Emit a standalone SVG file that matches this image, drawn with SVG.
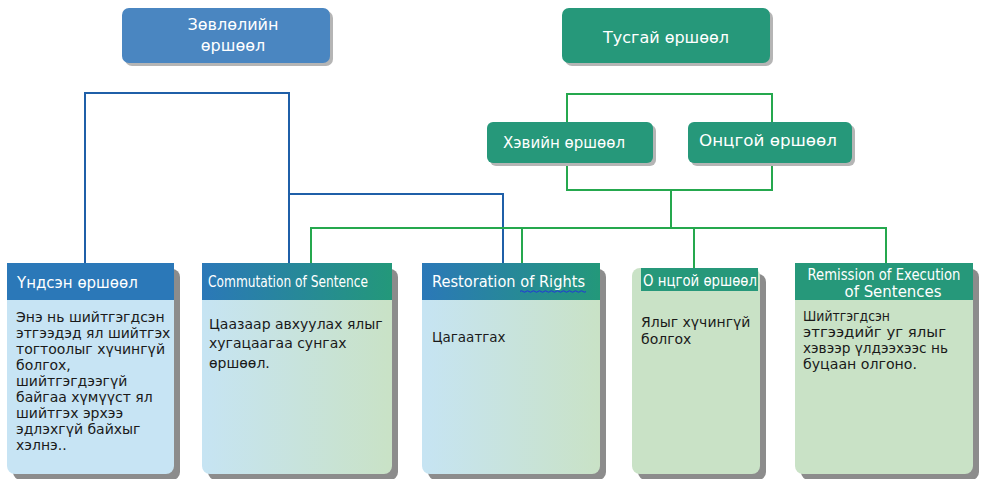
<svg xmlns="http://www.w3.org/2000/svg" width="983" height="479" viewBox="0 0 983 479">
<defs>
<style>
.t{font-family:"DejaVu Sans",Verdana,sans-serif;}
.c{font-family:"DejaVu Sans Condensed","DejaVu Sans",sans-serif;font-stretch:condensed;}
.w{fill:#ffffff;}
.k{fill:#1a1a1a;}
.sh{fill:#8c8c8c;}
.bl{fill:none;stroke:#1f5fa8;stroke-width:2;}
.gr{fill:none;stroke:#25a84e;stroke-width:2;}
</style>
<linearGradient id="hg" x1="0" y1="0" x2="1" y2="0">
<stop offset="0" stop-color="#2b78b8"/><stop offset="1" stop-color="#23987a"/>
</linearGradient>
<linearGradient id="bg" x1="0" y1="0" x2="1" y2="0">
<stop offset="0" stop-color="#c6e4f3"/><stop offset="1" stop-color="#c9e2c6"/>
</linearGradient>
</defs>
<rect width="983" height="479" fill="#ffffff"/>

<g id="connectors">
<polyline class="bl" points="85,263 85,93 289,93 289,263"/>
<polyline class="bl" points="289,194 503,194 503,263"/>
<polyline class="gr" points="567,122 567,94 772,94 772,122"/>
<polyline class="gr" points="567,163 567,190 772,190 772,163"/>
<line class="gr" x1="671" y1="190" x2="671" y2="228"/>
<polyline class="gr" points="311,263 311,228 886,228 886,263"/>
<line class="gr" x1="522" y1="228" x2="522" y2="263"/>
<line class="gr" x1="694" y1="228" x2="694" y2="268"/>
</g>

<g id="zovloliin">
<rect x="125" y="11" width="208" height="55" rx="7" fill="#b5b5b5"/>
<rect x="122" y="8" width="208" height="55" rx="7" fill="#4a86c1"/>
<text class="t w" x="233" y="30" font-size="16" text-anchor="middle">Зөвлөлийн</text>
<text class="t w" x="233" y="51" font-size="16" text-anchor="middle">өршөөл</text>
</g>

<g id="tusgai">
<rect x="565" y="11" width="208" height="55" rx="7" fill="#b5b5b5"/>
<rect x="562" y="8" width="208" height="55" rx="7" fill="#26987a"/>
<text class="t w" x="666" y="43" font-size="16" text-anchor="middle">Тусгай өршөөл</text>
</g>

<g id="hevin">
<rect x="490" y="125" width="166" height="41" rx="6" fill="#b5b5b5"/>
<rect x="487" y="122" width="166" height="41" rx="6" fill="#26987a"/>
<text class="c w" x="564" y="148" font-size="16" text-anchor="middle" textLength="122" lengthAdjust="spacingAndGlyphs">Хэвийн өршөөл</text>
</g>

<g id="ontsgoi">
<rect x="691" y="125" width="164" height="41" rx="6" fill="#b5b5b5"/>
<rect x="688" y="122" width="164" height="41" rx="6" fill="#26987a"/>
<text class="t w" x="768" y="146" font-size="16" text-anchor="middle" textLength="138" lengthAdjust="spacingAndGlyphs">Онцгой өршөөл</text>
</g>

<g id="undsen">
<rect x="13" y="269" width="167" height="211" rx="8" class="sh"/>
<path d="M7,263 H174 V466 a8,8 0 0 1 -8,8 H15 a8,8 0 0 1 -8,-8 Z" fill="#c7e4f4"/>
<rect x="7" y="263" width="167" height="37" fill="#2b78b8"/>
<text class="t w" x="17" y="288" font-size="15">Үндсэн өршөөл</text>
<g class="t k" font-size="14">
<text x="16" y="322">Энэ нь шийтгэгдсэн</text>
<text x="16" y="338">этгээдэд ял шийтгэх</text>
<text x="16" y="354">тогтоолыг хүчингүй</text>
<text x="16" y="370">болгох,</text>
<text x="16" y="386">шийтгэгдээгүй</text>
<text x="16" y="402">байгаа хүмүүст ял</text>
<text x="16" y="418">шийтгэх эрхээ</text>
<text x="16" y="434">эдлэхгүй байхыг</text>
<text x="16" y="450">хэлнэ..</text>
</g>
</g>

<g id="commutation">
<rect x="208" y="269" width="190" height="211" rx="8" class="sh"/>
<path d="M202,263 H392 V466 a8,8 0 0 1 -8,8 H210 a8,8 0 0 1 -8,-8 Z" fill="url(#bg)"/>
<rect x="202" y="263" width="190" height="37" fill="url(#hg)"/>
<text class="c w" x="208" y="287" font-size="15" textLength="160" lengthAdjust="spacingAndGlyphs">Commutation of Sentence</text>
<g class="t k" font-size="14">
<text x="209" y="329">Цаазаар авхуулах ялыг</text>
<text x="209" y="348">хугацаагаа сунгах</text>
<text x="209" y="368">өршөөл.</text>
</g>
</g>

<g id="restoration">
<rect x="428" y="269" width="178" height="211" rx="8" class="sh"/>
<path d="M422,263 H600 V466 a8,8 0 0 1 -8,8 H430 a8,8 0 0 1 -8,-8 Z" fill="url(#bg)"/>
<rect x="422" y="263" width="178" height="37" fill="url(#hg)"/>
<text class="c w" x="432" y="287" font-size="15" textLength="153" lengthAdjust="spacingAndGlyphs">Restoration of Rights</text>
<path d="M520,291.5 q1.5,-1.5 3,0 t3,0 t3,0 t3,0 t3,0 t3,0 t3,0 t3,0 t3,0 t3,0 t3,0 t3,0 t3,0 t3,0 t3,0 t3,0 t3,0 t3,0 t3,0 t3,0 t3,0 t3,0" fill="none" stroke="#2233dd" stroke-width="1"/>
<text class="t k" x="432" y="342" font-size="13.5">Цагаатгах</text>
</g>

<g id="ontsgoi2">
<rect x="638" y="274" width="128" height="206" rx="8" class="sh"/>
<rect x="632" y="268" width="128" height="206" rx="8" fill="#c9e2c6"/>
<rect x="641" y="268" width="117" height="23" fill="#26987a"/>
<text class="c w" x="643" y="286" font-size="15" textLength="114" lengthAdjust="spacingAndGlyphs">О нцгой өршөөл</text>
<g class="t k" font-size="14">
<text x="641" y="327">Ялыг хүчингүй</text>
<text x="641" y="344">болгох</text>
</g>
</g>

<g id="remission">
<rect x="801" y="269" width="178" height="211" rx="8" class="sh"/>
<path d="M795,263 H973 V466 a8,8 0 0 1 -8,8 H803 a8,8 0 0 1 -8,-8 Z" fill="#c9e2c6"/>
<rect x="795" y="263" width="178" height="37" fill="#26987a"/>
<text class="c w" x="884" y="280" font-size="15" text-anchor="middle" textLength="153" lengthAdjust="spacingAndGlyphs">Remission of Execution</text>
<text class="c w" x="893" y="297" font-size="15" text-anchor="middle" textLength="97" lengthAdjust="spacingAndGlyphs">of Sentences</text>
<g class="c k" font-size="14.5">
<text x="803" y="321" textLength="87" lengthAdjust="spacingAndGlyphs">Шийтгэгдсэн</text>
<text x="803" y="337" textLength="143" lengthAdjust="spacingAndGlyphs">этгээдийг уг ялыг</text>
<text x="803" y="353" textLength="145" lengthAdjust="spacingAndGlyphs">хэвээр үлдээхээс нь</text>
<text x="803" y="369" textLength="114" lengthAdjust="spacingAndGlyphs">буцаан олгоно.</text>
</g>
</g>
</svg>
